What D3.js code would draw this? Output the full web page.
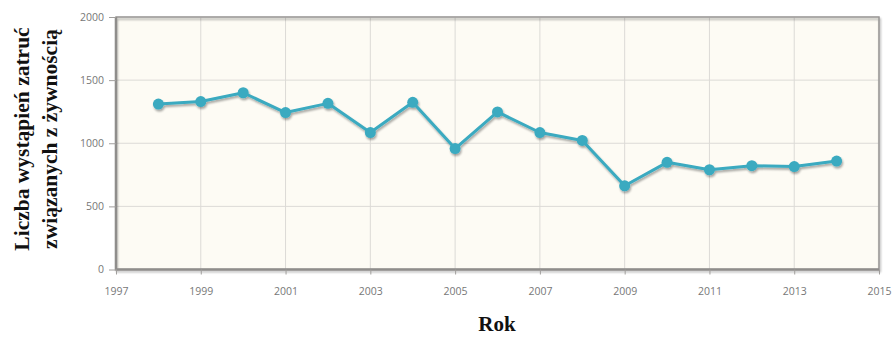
<!DOCTYPE html>
<html><head><meta charset="utf-8">
<script src="https://cdn.jsdelivr.net/npm/d3@7"></script>
<style>
html,body{margin:0;padding:0;background:#fff;}
svg{display:block;}
</style></head>
<body>
<svg id="chart" width="893" height="337"></svg>
<script>
const years = [1998,1999,2000,2001,2002,2003,2004,2005,2006,2007,2008,2009,2010,2011,2012,2013,2014];
const outbreaks = [1310,1330,1400,1243,1316,1085,1324,958,1248,1085,1022,663,849,790,822,815,859];
const xTicks = [1997,1999,2001,2003,2005,2007,2009,2011,2013,2015];
const yTicks = [0,500,1000,1500,2000];
const yTitleLines = ["Liczba wystąpień zatruć","związanych z żywnością"];
const xTitle = "Rok";

const svg = d3.select("#chart");
const L = 116, R = 879, T = 17, B = 269.5;
const x = d3.scaleLinear().domain([1997,2015]).range([L,R]);
const y = d3.scaleLinear().domain([0,2000]).range([B,T]);

const defs = svg.append("defs");
const f = defs.append("filter").attr("id","sh").attr("x","-20%").attr("y","-20%").attr("width","140%").attr("height","160%");
f.append("feGaussianBlur").attr("in","SourceAlpha").attr("stdDeviation",1.2).attr("result","b");
f.append("feOffset").attr("in","b").attr("dx",1).attr("dy",2).attr("result","o");
f.append("feComponentTransfer").attr("in","o").attr("result","o2")
  .append("feFuncA").attr("type","linear").attr("slope",0.35);
const m = f.append("feMerge");
m.append("feMergeNode").attr("in","o2");
m.append("feMergeNode").attr("in","SourceGraphic");

// background
svg.append("rect").attr("x",L).attr("y",T).attr("width",R-L).attr("height",B-T).attr("fill","#fdfbf4");

// grid
svg.append("g").selectAll("line").data(xTicks).join("line")
  .attr("x1",d=>x(d)).attr("x2",d=>x(d)).attr("y1",T).attr("y2",B)
  .attr("stroke","#dcdad6").attr("stroke-width",1);
svg.append("g").selectAll("line").data(yTicks).join("line")
  .attr("x1",L).attr("x2",R).attr("y1",d=>y(d)).attr("y2",d=>y(d))
  .attr("stroke","#dcdad6").attr("stroke-width",1);

// frame
svg.append("rect").attr("x",L).attr("y",T).attr("width",R-L).attr("height",B-T)
  .attr("fill","none").attr("stroke","#9a9896").attr("stroke-width",1.5).attr("filter","url(#sh)");
svg.append("line").attr("x1",L).attr("x2",L).attr("y1",T).attr("y2",B+1).attr("stroke","#8f8d8b").attr("stroke-width",2.5);
svg.append("line").attr("x1",L).attr("x2",R).attr("y1",B).attr("y2",B).attr("stroke","#8f8d8b").attr("stroke-width",2.5);

// axes
const yAxis = d3.axisLeft(y).tickValues(yTicks).tickSize(7).tickPadding(5).tickFormat(d3.format("d"));
const gy = svg.append("g").attr("transform",`translate(${L},0)`).call(yAxis);
gy.select(".domain").remove();
gy.selectAll(".tick line").attr("stroke","#a09e9c");
gy.selectAll("text").attr("fill","#777").style("font-family","'Open Sans', sans-serif").style("font-size","10.5px");

const xAxis = d3.axisBottom(x).tickValues(xTicks).tickSize(5).tickPadding(13).tickFormat(d3.format("d"));
const gx = svg.append("g").attr("transform",`translate(0,${B})`).call(xAxis);
gx.select(".domain").remove();
gx.selectAll(".tick line").attr("stroke","#a09e9c");
gx.selectAll("text").attr("fill","#777").style("font-family","'Open Sans', sans-serif").style("font-size","10.5px");

// line + points
const line = d3.line().x((d,i)=>x(years[i])).y(d=>y(d));
const g = svg.append("g").attr("filter","url(#sh)");
g.append("path").datum(outbreaks).attr("d",line).attr("fill","none")
  .attr("stroke","#3aaac0").attr("stroke-width",3).attr("stroke-linejoin","round");
g.selectAll("circle").data(outbreaks).join("circle")
  .attr("cx",(d,i)=>x(years[i])).attr("cy",d=>y(d)).attr("r",5.5).attr("fill","#3aaac0");

// titles
const yt = svg.append("text").attr("transform","translate(0,139) rotate(-90)")
  .attr("text-anchor","middle").style("font-family","'Liberation Serif','Times New Roman',serif")
  .style("font-weight","bold").style("font-size","21.5px").attr("fill","#111");
yTitleLines.forEach((t,i)=>yt.append("tspan").attr("x",0).attr("y",i===0?29:57).text(t));

svg.append("text").attr("x",497).attr("y",331).attr("text-anchor","middle")
  .style("font-family","'Liberation Serif','Times New Roman',serif").style("font-weight","bold")
  .style("font-size","21px").attr("fill","#111").text(xTitle);
</script>
</body></html>
